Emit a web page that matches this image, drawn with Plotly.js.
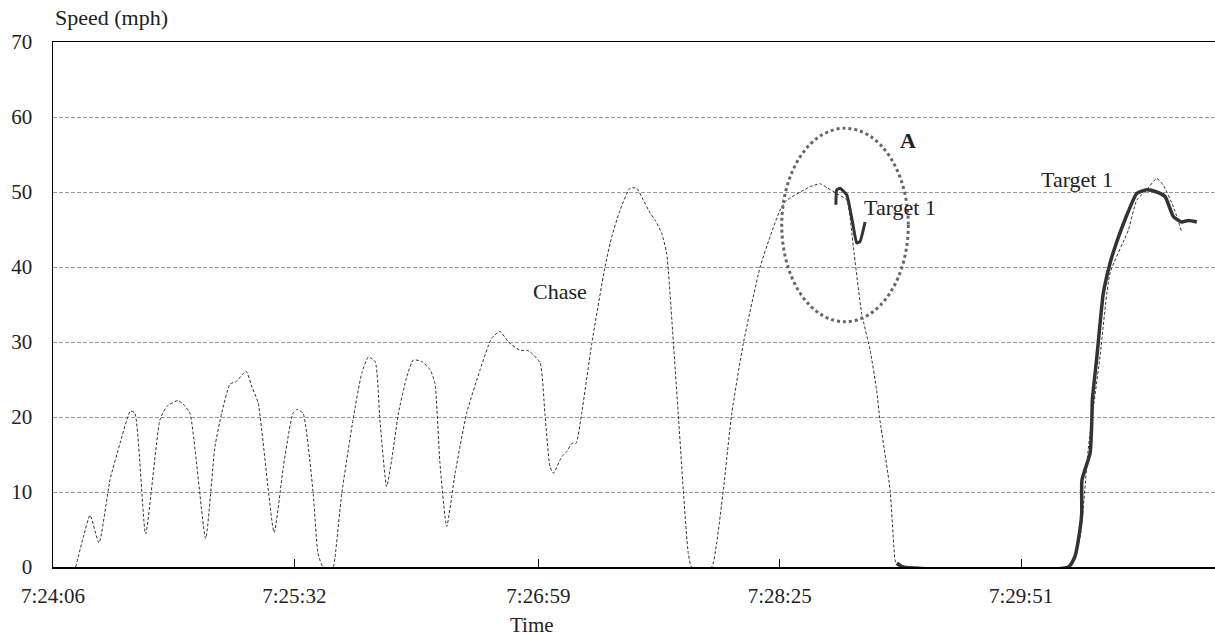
<!DOCTYPE html>
<html>
<head>
<meta charset="utf-8">
<script src="https://cdn.plot.ly/plotly-3.0.1.min.js"></script>
<style>html,body{margin:0;padding:0;background:#fff;}#chart{width:1215px;height:636px;}</style>
</head>
<body>
<div id="chart"></div>
<script>
// Time in seconds after 7:24:06
const chaseTime = [8.1,10.8,13.2,16.4,20.3,23.9,27.6,29.2,33.0,38.1,40.5,44.5,46.4,48.8,54.4,57.7,60.1,63.1,65.2,68.8,70.9,73.1,78.8,82.1,85.5,87.0,89.1,92.7,94.4,96.2,99.8,100.5,102.9,106.9,110.0,112.4,114.8,116.5,118.9,120.7,123.1,126.1,128.4,131.4,134.4,136.1,137.9,140.3,143.3,147.4,152.2,156.3,159.3,162.3,166.4,168.8,170.0,173.6,175.3,177.1,178.3,181.3,183.1,184.9,186.4,188.4,192.0,196.7,199.1,202.1,205.6,208.0,210.4,212.8,214.5,216.9,218.7,221.1,222.8,224.6,226.4,227.6,234.7,236.5,238.9,241.9,246.0,252.0,255.5,259.1,261.5,269.8,273.4,275.7,279.3,282.9,285.2,288.2,291.2,293.5,294.7,298.3,300.1,300.8,362.4,366.0,369.0,373.1,376.7,383.2,386.2,389.8,393.3,395.7,399.3,402.2];
const chaseSpeed = [0,4.0,6.9,3.2,11.6,16.5,20.8,20.5,4.4,19.6,21.4,22.2,21.7,20.5,3.8,16.0,20.5,24.4,24.7,26.1,24.0,21.9,4.6,13.4,20.5,21.0,20.5,9.9,1.9,0,0,1.3,9.8,19.6,25.8,28.0,27.4,19.6,10.7,14.3,20.5,25.4,27.6,27.4,26.3,24.5,13.8,5.4,12.5,20.5,26.3,30.5,31.4,30.0,28.9,28.9,28.7,27.2,20.5,13.4,12.5,14.7,15.4,16.5,16.5,20.5,29.8,40.0,44.0,47.6,50.5,50.5,48.9,47.2,46.3,44.5,41.8,29.8,20.5,10.3,1.8,0,0,3.2,10.3,20.5,29.8,40.0,44.0,47.6,48.9,50.7,51.1,50.6,49.8,48.9,42.7,33.8,28.9,23.6,19.6,10.3,0.9,0.3,0,4.0,16.0,28.0,39.2,44.9,48.9,50.3,51.8,50.9,48.0,44.7];

const targetATime = [279.0,279.3,280.5,282.9,284.1,285.2,286.4,287.6,289.4];
const targetASpeed = [48.3,50.3,50.5,49.6,47.6,45.4,43.2,43.4,46.0];

const targetTime = [300.7,302.9,361.8,364.2,365.4,366.6,366.7,369.6,370.2,370.4,372.0,374.3,376.7,378.5,383.2,386.2,389.8,393.3,396.3,399.3,402.2,404.6,407.6];
const targetSpeed = [0.5,0,0,1.4,3.6,7.1,11.6,15.2,19.6,22.3,28.0,36.5,40.5,42.7,47.4,49.8,50.3,50.0,49.4,46.7,46.0,46.2,46.0];

const tickTimes = [0,86,173,259,345];
const tickLabels = ["7:24:06","7:25:32","7:26:59","7:28:25","7:29:51"];
const yTicks = [0,10,20,30,40,50,60,70];

const FONT = "Liberation Serif, Times New Roman, serif";
const INK = "#222";

const traces = [
  {x: chaseTime, y: chaseSpeed, type: "scatter", mode: "lines",
   line: {color: "#333", width: 1, dash: "3px,2px", shape: "spline", smoothing: 0.5}, hoverinfo: "skip"},
  {x: targetTime, y: targetSpeed, type: "scatter", mode: "lines",
   line: {color: "#333", width: 3.5, shape: "spline", smoothing: 0.5}, hoverinfo: "skip"},
  {x: targetATime, y: targetASpeed, type: "scatter", mode: "lines",
   line: {color: "#333", width: 3, shape: "spline", smoothing: 0.4}, hoverinfo: "skip"}
];

const layout = {
  width: 1215, height: 636,
  margin: {l: 53, r: 0, t: 42, b: 69},
  paper_bgcolor: "#fff", plot_bgcolor: "#fff",
  showlegend: false,
  font: {family: FONT, size: 21, color: INK},
  xaxis: {
    range: [0, 414.1], tickvals: tickTimes, ticktext: tickLabels,
    showgrid: false, zeroline: false, showline: true, linecolor: "#000", linewidth: 1.5,
    mirror: true, ticks: "inside", ticklen: 8, tickcolor: "#000", tickwidth: 1,
    ticklabelstandoff: 9, tickfont: {family: FONT, size: 21, color: INK}
  },
  yaxis: {
    range: [0, 70], tickvals: yTicks, showgrid: true, gridcolor: "#999", gridwidth: 1,
    griddash: "4px,2px", zeroline: false, showline: true, linecolor: "#000", linewidth: 1.5,
    ticks: "", ticklabelstandoff: 15, tickfont: {family: FONT, size: 21, color: INK}
  },
  shapes: [
    {type: "circle", xref: "x", yref: "y", x0: 259.7, x1: 304.8, y0: 32.7, y1: 58.5,
     line: {color: "#666", width: 3, dash: "dot"}}
  ],
  annotations: [
    {text: "Speed (mph)", xref: "paper", yref: "paper", x: 0, y: 1.046, xanchor: "left", yanchor: "middle", showarrow: false, font: {family: FONT, size: 22, color: INK}},
    {text: "Time", xref: "paper", yref: "paper", x: 0.412, y: -0.110, xanchor: "center", yanchor: "middle", showarrow: false, font: {family: FONT, size: 21, color: INK}},
    {text: "Chase", xref: "x", yref: "y", x: 180.8, y: 36.8, showarrow: false, font: {family: FONT, size: 22, color: INK}},
    {text: "Target 1", xref: "x", yref: "y", x: 302.0, y: 48, showarrow: false, font: {family: FONT, size: 22, color: INK}},
    {text: "Target 1", xref: "x", yref: "y", x: 364.9, y: 51.7, showarrow: false, font: {family: FONT, size: 22, color: INK}},
    {text: "<b>A</b>", xref: "x", yref: "y", x: 304.7, y: 56.9, showarrow: false, font: {family: FONT, size: 22, color: INK}}
  ]
};

Plotly.newPlot("chart", traces, layout, {staticPlot: true, displayModeBar: false});
</script>
</body>
</html>
